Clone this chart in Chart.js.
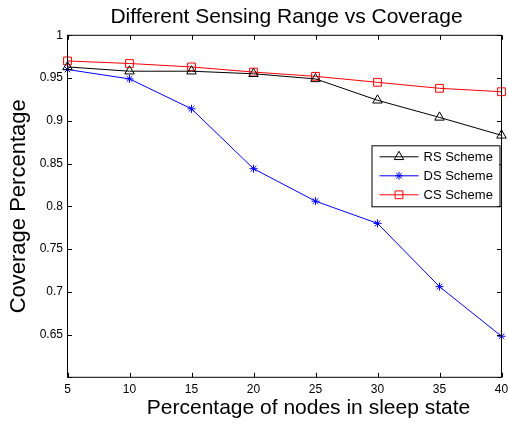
<!DOCTYPE html>
<html>
<head>
<meta charset="utf-8">
<script src="https://cdn.jsdelivr.net/npm/chart.js@4/dist/chart.umd.min.js"></script>
<style>
  html, body { margin: 0; padding: 0; background: #fff; }
</style>
</head>
<body>
<canvas id="chart" width="508" height="424"></canvas>
<script>
// data
const sleepPct = [5, 10, 15, 20, 25, 30, 35, 40];
const rsScheme = [0.963, 0.958, 0.958, 0.955, 0.949, 0.924, 0.904, 0.883];
const dsScheme = [0.960, 0.949, 0.914, 0.844, 0.806, 0.780, 0.706, 0.648];
const csScheme = [0.970, 0.967, 0.963, 0.957, 0.952, 0.945, 0.938, 0.934];
const seriesNames = ['RS Scheme', 'DS Scheme', 'CS Scheme'];

const FONT = "'Liberation Sans', Arial, sans-serif";

// matlab-like box: frame, inward ticks on all 4 sides, titles, legend inside
const boxPlugin = {
  id: 'matlabBox',
  afterDraw(chart) {
    const { ctx, chartArea: a, scales } = chart;
    ctx.save();
    ctx.strokeStyle = '#000';
    ctx.lineWidth = 1;
    ctx.strokeRect(a.left, a.top, a.right - a.left, a.bottom - a.top);

    const tl = 4.5;
    ctx.beginPath();
    scales.x.ticks.forEach((t, i) => {
      const px = Math.round(scales.x.getPixelForTick(i)) + 0.5;
      ctx.moveTo(px, a.bottom); ctx.lineTo(px, a.bottom - tl);
      ctx.moveTo(px, a.top);    ctx.lineTo(px, a.top + tl);
    });
    scales.y.ticks.forEach(t => {
      const py = Math.round(scales.y.getPixelForValue(t.value)) + 0.5;
      ctx.moveTo(a.left, py);  ctx.lineTo(a.left + tl, py);
      ctx.moveTo(a.right, py); ctx.lineTo(a.right - tl, py);
    });
    ctx.stroke();

    // title + x label (x label sits a bit right of centre in the original)
    ctx.fillStyle = '#000';
    ctx.font = '21px ' + FONT;
    ctx.textAlign = 'center';
    ctx.textBaseline = 'middle';
    ctx.fillText('Different Sensing Range vs Coverage', (a.left + a.right) / 2 + 2, 17);
    ctx.fillText('Percentage of nodes in sleep state', (a.left + a.right) / 2 + 24, 408);

    // legend
    const lx = a.right - 130, ly = a.top + 110, lw = 128, lh = 61;
    ctx.fillStyle = '#fff';
    ctx.fillRect(lx, ly, lw, lh);
    ctx.strokeRect(lx + 0.5, ly + 0.5, lw, lh);
    ctx.font = '13px ' + FONT;
    ctx.textAlign = 'left';
    chart.data.datasets.forEach((ds, i) => {
      const y = ly + 11.5 + i * 19;
      ctx.strokeStyle = ds.borderColor;
      ctx.beginPath();
      ctx.moveTo(lx + 8, y); ctx.lineTo(lx + 47, y);
      ctx.stroke();
      ctx.fillStyle = 'rgba(0,0,0,0)';
      Chart.helpers.drawPoint(ctx, {
        pointStyle: ds.pointStyle, radius: ds.pointRadius, borderWidth: 1, rotation: 0
      }, lx + 27.5, y);
      ctx.fillStyle = '#000';
      ctx.fillText(ds.label, lx + 52, y + 1);
    });
    ctx.restore();
  }
};

const mk = (label, data, color, style, r) => ({
  label, data,
  borderColor: color,
  backgroundColor: 'transparent',
  borderWidth: 1,
  pointStyle: style,
  pointRadius: r,
  pointHoverRadius: r,
  pointBorderColor: color,
  pointBackgroundColor: 'transparent',
  pointBorderWidth: 1,
  tension: 0,
  clip: false
});

new Chart(document.getElementById('chart'), {
  type: 'line',
  data: {
    labels: sleepPct,
    datasets: [
      mk(seriesNames[0], rsScheme, '#000000', 'triangle', 5.5),
      mk(seriesNames[1], dsScheme, '#0000ff', 'star', 4),
      mk(seriesNames[2], csScheme, '#ff0000', 'rect', 5.5)
    ]
  },
  options: {
    responsive: false,
    animation: false,
    layout: { padding: { top: 35.3, right: 6.3, left: 0, bottom: 0 } },
    plugins: { legend: { display: false }, tooltip: { enabled: false } },
    scales: {
      x: {
        type: 'category',
        offset: false,
        grid: { display: false, drawTicks: false },
        border: { display: false },
        ticks: { color: '#000', font: { family: FONT, size: 12 }, padding: 5.5, maxRotation: 0, autoSkip: false },
        afterFit(s) { s.height = 46.7; s.paddingLeft = 0; s.paddingRight = 0; }
      },
      y: {
        min: 0.6, max: 1,
        grid: { display: false, drawTicks: false },
        border: { display: false },
        ticks: {
          stepSize: 0.05, color: '#000', font: { family: FONT, size: 12 }, padding: 4.5,
          callback: v => (Math.abs(v - 0.6) < 1e-6 ? '' : String(+v.toFixed(2)))
        },
        title: {
          display: true, text: 'Coverage Percentage', color: '#000',
          font: { family: FONT, size: 22 }, padding: { top: 6, bottom: 0 }
        },
        afterFit(s) { s.width = 67.5; s.paddingTop = 0; s.paddingBottom = 0; }
      }
    }
  },
  plugins: [boxPlugin]
});
</script>
</body>
</html>
